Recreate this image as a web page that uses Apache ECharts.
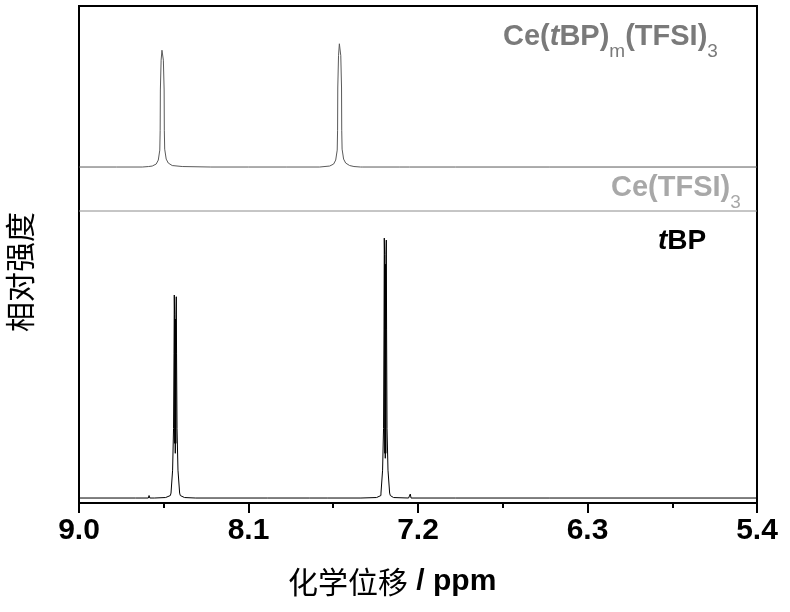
<!DOCTYPE html>
<html>
<head>
<meta charset="utf-8">
<script src="https://cdn.jsdelivr.net/npm/echarts@6/dist/echarts.min.js"></script>
<style>html,body{margin:0;padding:0;background:#fff;}#c{width:790px;height:612px;}</style>
</head>
<body>
<div id="c"></div>
<script>
// x tick labels (ppm)
const xTickLabels = [9.0, 8.1, 7.2, 6.3, 5.4];

// Ce(tBP)m(TFSI)3 spectrum (ppm, relative intensity incl. vertical offset)
const complexPpm = [9.00, 8.80, 8.664, 8.63, 8.611, 8.590, 8.579, 8.571, 8.569, 8.568, 8.564, 8.5595, 8.5565, 8.552, 8.548, 8.547, 8.545, 8.537, 8.526, 8.505, 8.452, 8.30, 8.10, 7.90, 7.722, 7.669, 7.648, 7.637, 7.629, 7.627, 7.626, 7.622, 7.6175, 7.6145, 7.610, 7.606, 7.605, 7.603, 7.595, 7.584, 7.563, 7.540, 7.505, 7.499, 7.493, 7.30, 7.245, 7.240, 7.235, 7.00, 6.50, 6.00, 5.40];
const complexInt = [67.6, 67.6, 67.6, 67.7, 67.8, 68.2, 69.0, 71.0, 75.0, 83.1, 89.1, 91.1, 91.1, 89.1, 83.1, 75.0, 71.2, 69.2, 68.4, 67.9, 67.7, 67.6, 67.6, 67.6, 67.6, 67.8, 68.2, 69.0, 71.0, 75.0, 83.5, 90.0, 92.4, 92.2, 90.0, 83.5, 75.0, 71.2, 69.2, 68.4, 67.9, 67.7, 67.6, 68.0, 67.6, 67.6, 67.6, 67.2, 67.6, 67.6, 67.6, 67.6, 67.6];

// Ce(TFSI)3 spectrum (flat)
const saltPpm = [9.0, 7.2, 5.4];
const saltInt = [58.75, 58.75, 58.75];

// tBP spectrum (dense doublets read as filled black bars)
const tbpPpm = [9.00, 8.70, 8.632, 8.628, 8.624, 8.60, 8.54, 8.515, 8.5115, 8.503, 8.498, 8.4955, 8.494, 8.4925, 8.4915, 8.4900, 8.4887, 8.4875, 8.4860, 8.4850, 8.4834, 8.482, 8.4795, 8.4745, 8.4657, 8.462, 8.44, 8.38, 8.00, 7.775, 7.770, 7.765, 7.682, 7.678, 7.674, 7.503, 7.499, 7.495, 7.42, 7.397, 7.3966, 7.388, 7.383, 7.3805, 7.379, 7.3775, 7.3760, 7.3750, 7.3737, 7.3725, 7.3710, 7.3700, 7.3683, 7.3668, 7.3645, 7.3593, 7.3506, 7.347, 7.33, 7.25, 7.245, 7.241, 7.237, 7.00, 6.50, 6.00, 5.40];
const tbpInt = [1.0, 1.0, 1.0, 1.5, 1.0, 1.0, 1.1, 1.5, 2.0, 6.6, 15, 30, 41.85, 38, 12, 37, 10, 37, 12, 38, 41.5, 30, 15, 6.6, 2.0, 1.5, 1.1, 1.0, 1.0, 1.0, 1.4, 1.0, 1.0, 1.3, 1.0, 1.0, 1.3, 1.0, 1.1, 1.5, 2.0, 6.6, 15, 35, 53.3, 50, 10, 48, 9, 48, 10, 50, 52.9, 35, 15, 6.6, 2.0, 1.5, 1.1, 1.0, 1.0, 1.8, 1.0, 1.0, 1.0, 1.0, 1.0];

const zip = (a, b) => a.map((v, i) => [v, b[i]]);

const chart = echarts.init(document.getElementById('c'), null, {renderer: 'canvas'});
const latin = "'Liberation Sans', Arial, sans-serif";
const cjk = "'Noto Sans CJK SC', sans-serif";

const option = {
  animation: false,
  backgroundColor: '#fff',
  grid: {left: 79, right: 33, top: 6, bottom: 109, show: true, borderColor: '#000', borderWidth: 2, backgroundColor: 'transparent'},
  xAxis: {
    type: 'value', min: 5.4, max: 9.0, interval: 0.9, inverse: true,
    axisLine: {show: true, lineStyle: {color: '#000', width: 2}},
    axisTick: {show: true, inside: false, length: 10, lineStyle: {color: '#000', width: 2}},
    minorTick: {show: true, splitNumber: 2, length: 5, lineStyle: {color: '#000', width: 2}},
    splitLine: {show: false},
    axisLabel: {
      margin: 13, color: '#000', fontFamily: latin, fontWeight: 'bold', fontSize: 30,
      formatter: v => { const m = xTickLabels.find(t => Math.abs(t - v) < 1e-6); return m !== undefined ? m.toFixed(1) : ''; }
    }
  },
  yAxis: {
    type: 'value', min: 0, max: 100,
    axisLine: {show: false}, axisTick: {show: false}, axisLabel: {show: false}, splitLine: {show: false}
  },
  series: [
    {type: 'line', name: 'Ce(tBP)m(TFSI)3', data: zip(complexPpm, complexInt), showSymbol: false, lineStyle: {color: '#5a5a5a', width: 1}},
    {type: 'line', name: 'Ce(TFSI)3', data: zip(saltPpm, saltInt), showSymbol: false, lineStyle: {color: '#8c8c8c', width: 1}},
    {type: 'line', name: 'tBP', data: zip(tbpPpm, tbpInt), showSymbol: false, lineStyle: {color: '#000', width: 1}}
  ],
  graphic: [
    {type: 'text', left: 503, top: 12, z: 10, style: {
      text: '{n|Ce(}{i|t}{n|BP)}{s|m}{n|(TFSI)}{s|3}',
      rich: {
        n: {fontFamily: latin, fontWeight: 'bold', fontSize: 29, fill: '#7a7a7a', lineHeight: 48},
        i: {fontFamily: latin, fontWeight: 'bold', fontStyle: 'italic', fontSize: 29, fill: '#7a7a7a', lineHeight: 48},
        s: {fontFamily: latin, fontWeight: 'normal', fontSize: 19, fill: '#7a7a7a', lineHeight: 18, padding: [30, 0, 0, 0]}
      }
    }},
    {type: 'text', left: 611, top: 163, z: 10, style: {
      text: '{n|Ce(TFSI)}{s|3}',
      rich: {
        n: {fontFamily: latin, fontWeight: 'bold', fontSize: 29, fill: '#a8a8a8', lineHeight: 48},
        s: {fontFamily: latin, fontWeight: 'normal', fontSize: 19, fill: '#a8a8a8', lineHeight: 18, padding: [30, 0, 0, 0]}
      }
    }},
    {type: 'text', left: 658, top: 227, z: 10, style: {
      text: '{i|t}{n|BP}',
      rich: {
        n: {fontFamily: latin, fontWeight: 'bold', fontSize: 28, fill: '#000', lineHeight: 46},
        i: {fontFamily: latin, fontWeight: 'bold', fontStyle: 'italic', fontSize: 28, fill: '#000', lineHeight: 46}
      }
    }},
    {type: 'text', left: 288, top: 567, z: 10, style: {
      text: '{c|化学位移}{p| / ppm}',
      rich: {
        c: {fontFamily: cjk, fontSize: 30, fill: '#000', lineHeight: 38},
        p: {fontFamily: latin, fontWeight: 'bold', fontSize: 30, fill: '#000', lineHeight: 38}
      }
    }},
    {type: 'text', x: 20, y: 272, rotation: Math.PI / 2, z: 10, style: {
      text: '相对强度', fontFamily: cjk, fontSize: 30, fill: '#000', align: 'center', verticalAlign: 'middle'
    }}
  ]
};
chart.setOption(option);
</script>
</body>
</html>
